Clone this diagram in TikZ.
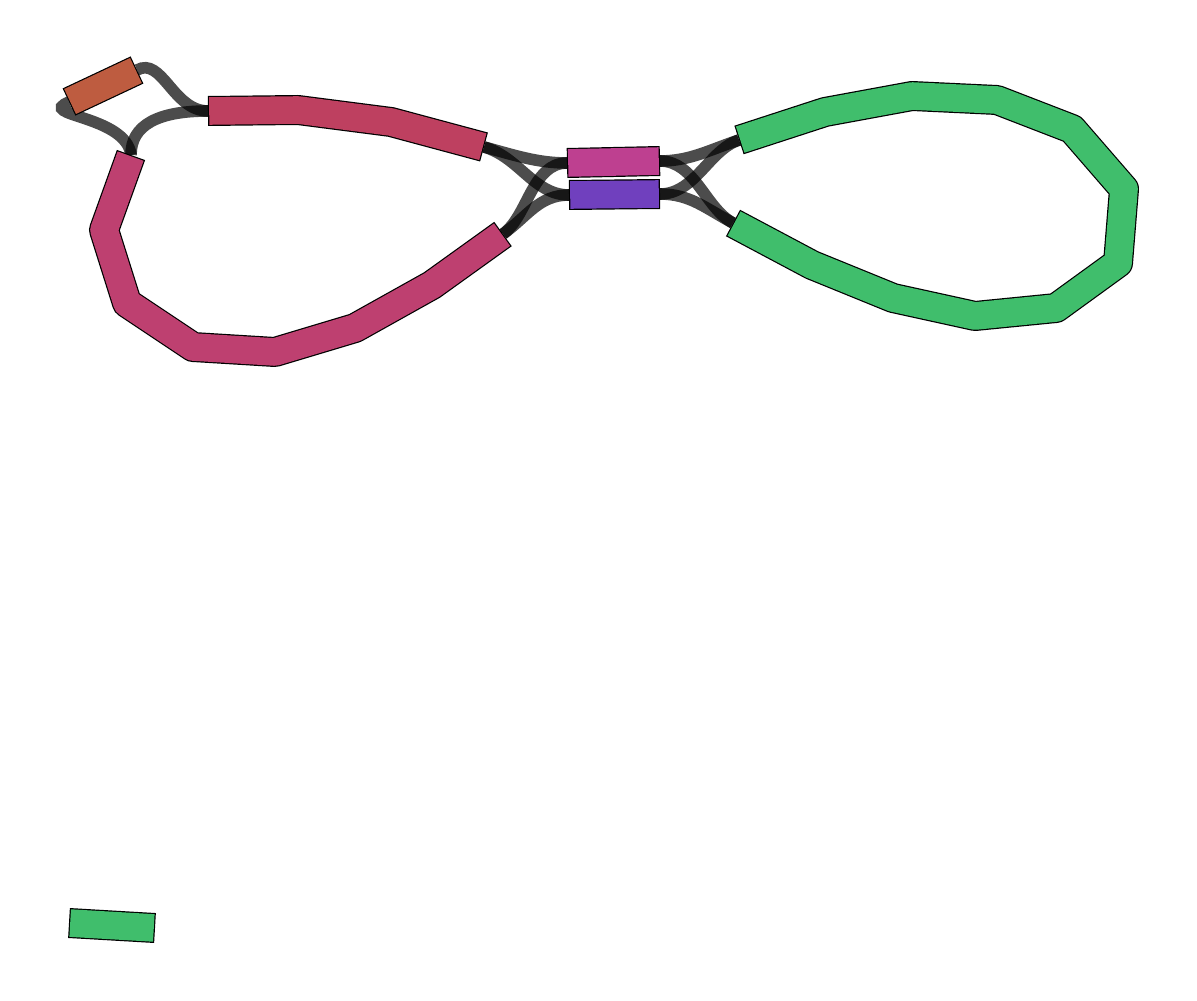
\documentclass[tikz,border=0pt]{standalone}
\usetikzlibrary{calc}
\definecolor{segorange}{RGB}{190,92,64}
\definecolor{segred}{RGB}{190,64,96}
\definecolor{segrose}{RGB}{190,64,112}
\definecolor{segmagenta}{RGB}{190,64,144}
\definecolor{segpurple}{RGB}{112,64,190}
\definecolor{seggreen}{RGB}{64,190,108}
\tikzset{
    link/.style={line width=5.8pt, draw=black, draw opacity=0.7},
    segedge/.style={line width=15pt, draw=black, line join=round},
    segfill/.style={line width=13.8pt, draw=#1, line join=round, shorten <=0.6pt, shorten >=0.6pt},
}
\newcommand{\drawseg}[2]{\draw[segedge] #2; \draw[segfill=#1] #2;}

\begin{document}
\begin{tikzpicture}[x=0.5pt,y=-0.5pt]
    \useasboundingbox (0,0) rectangle (1197,1000);

    % Segment ends
    \coordinate (A1) at (69,102);   \coordinate (A2) at (137,70);
    \coordinate (B1) at (208,111);  \coordinate (B2) at (484,147);
    \coordinate (C1) at (131,155);  \coordinate (C2) at (503,234);
    \coordinate (D1) at (567,163);  \coordinate (D2) at (660,161);
    \coordinate (E1) at (569,195);  \coordinate (E2) at (660,194);
    \coordinate (F1) at (739,140);  \coordinate (F2) at (733,223);
    \coordinate (G1) at (69,923);   \coordinate (G2) at (155,928);

    % Links
    \draw[link] (A1) .. controls +(-34,14) and +(-5,-40) .. (C1);
    \draw[link] (A2) .. controls +(25,-14) and +(-35,0) .. (B1);
    \draw[link] (B1) .. controls +(-50,0) and +(0,-30) .. (C1);
    \draw[link] (B2) .. controls +(30,8) and +(-30,0) .. (D1);
    \draw[link] (B2) .. controls +(35,10) and +(-35,0) .. (E1);
    \draw[link] (C2) .. controls +(25,-18) and +(-35,0) .. (D1);
    \draw[link] (C2) .. controls +(25,-18) and +(-30,0) .. (E1);
    \draw[link] (F1) .. controls +(-30,10) and +(30,0) .. (D2);
    \draw[link] (F1) .. controls +(-30,10) and +(35,0) .. (E2);
    \draw[link] (F2) .. controls +(-28,-15) and +(35,0) .. (D2);
    \draw[link] (F2) .. controls +(-28,-15) and +(30,0) .. (E2);

    % Segments
    \drawseg{segorange}{(A1) -- (A2)}
    \drawseg{segred}{(B1) -- (298,110) -- (391,122) -- (B2)}
    \drawseg{segrose}{(C1) -- (104,230) -- (127,303) -- (193,347) -- (275,352) -- (355,328) -- (432,285) -- (C2)}
    \drawseg{segmagenta}{(D1) -- (D2)}
    \drawseg{segpurple}{(E1) -- (E2)}
    \drawseg{seggreen}{(F1) -- (825,112) -- (912,96) -- (997,100) -- (1072,129) -- (1124,189) -- (1118,263) -- (1056,308) -- (975,316) -- (893,298) -- (812,265) -- (F2)}
    \drawseg{seggreen}{(G1) -- (G2)}
\end{tikzpicture}
\end{document}
